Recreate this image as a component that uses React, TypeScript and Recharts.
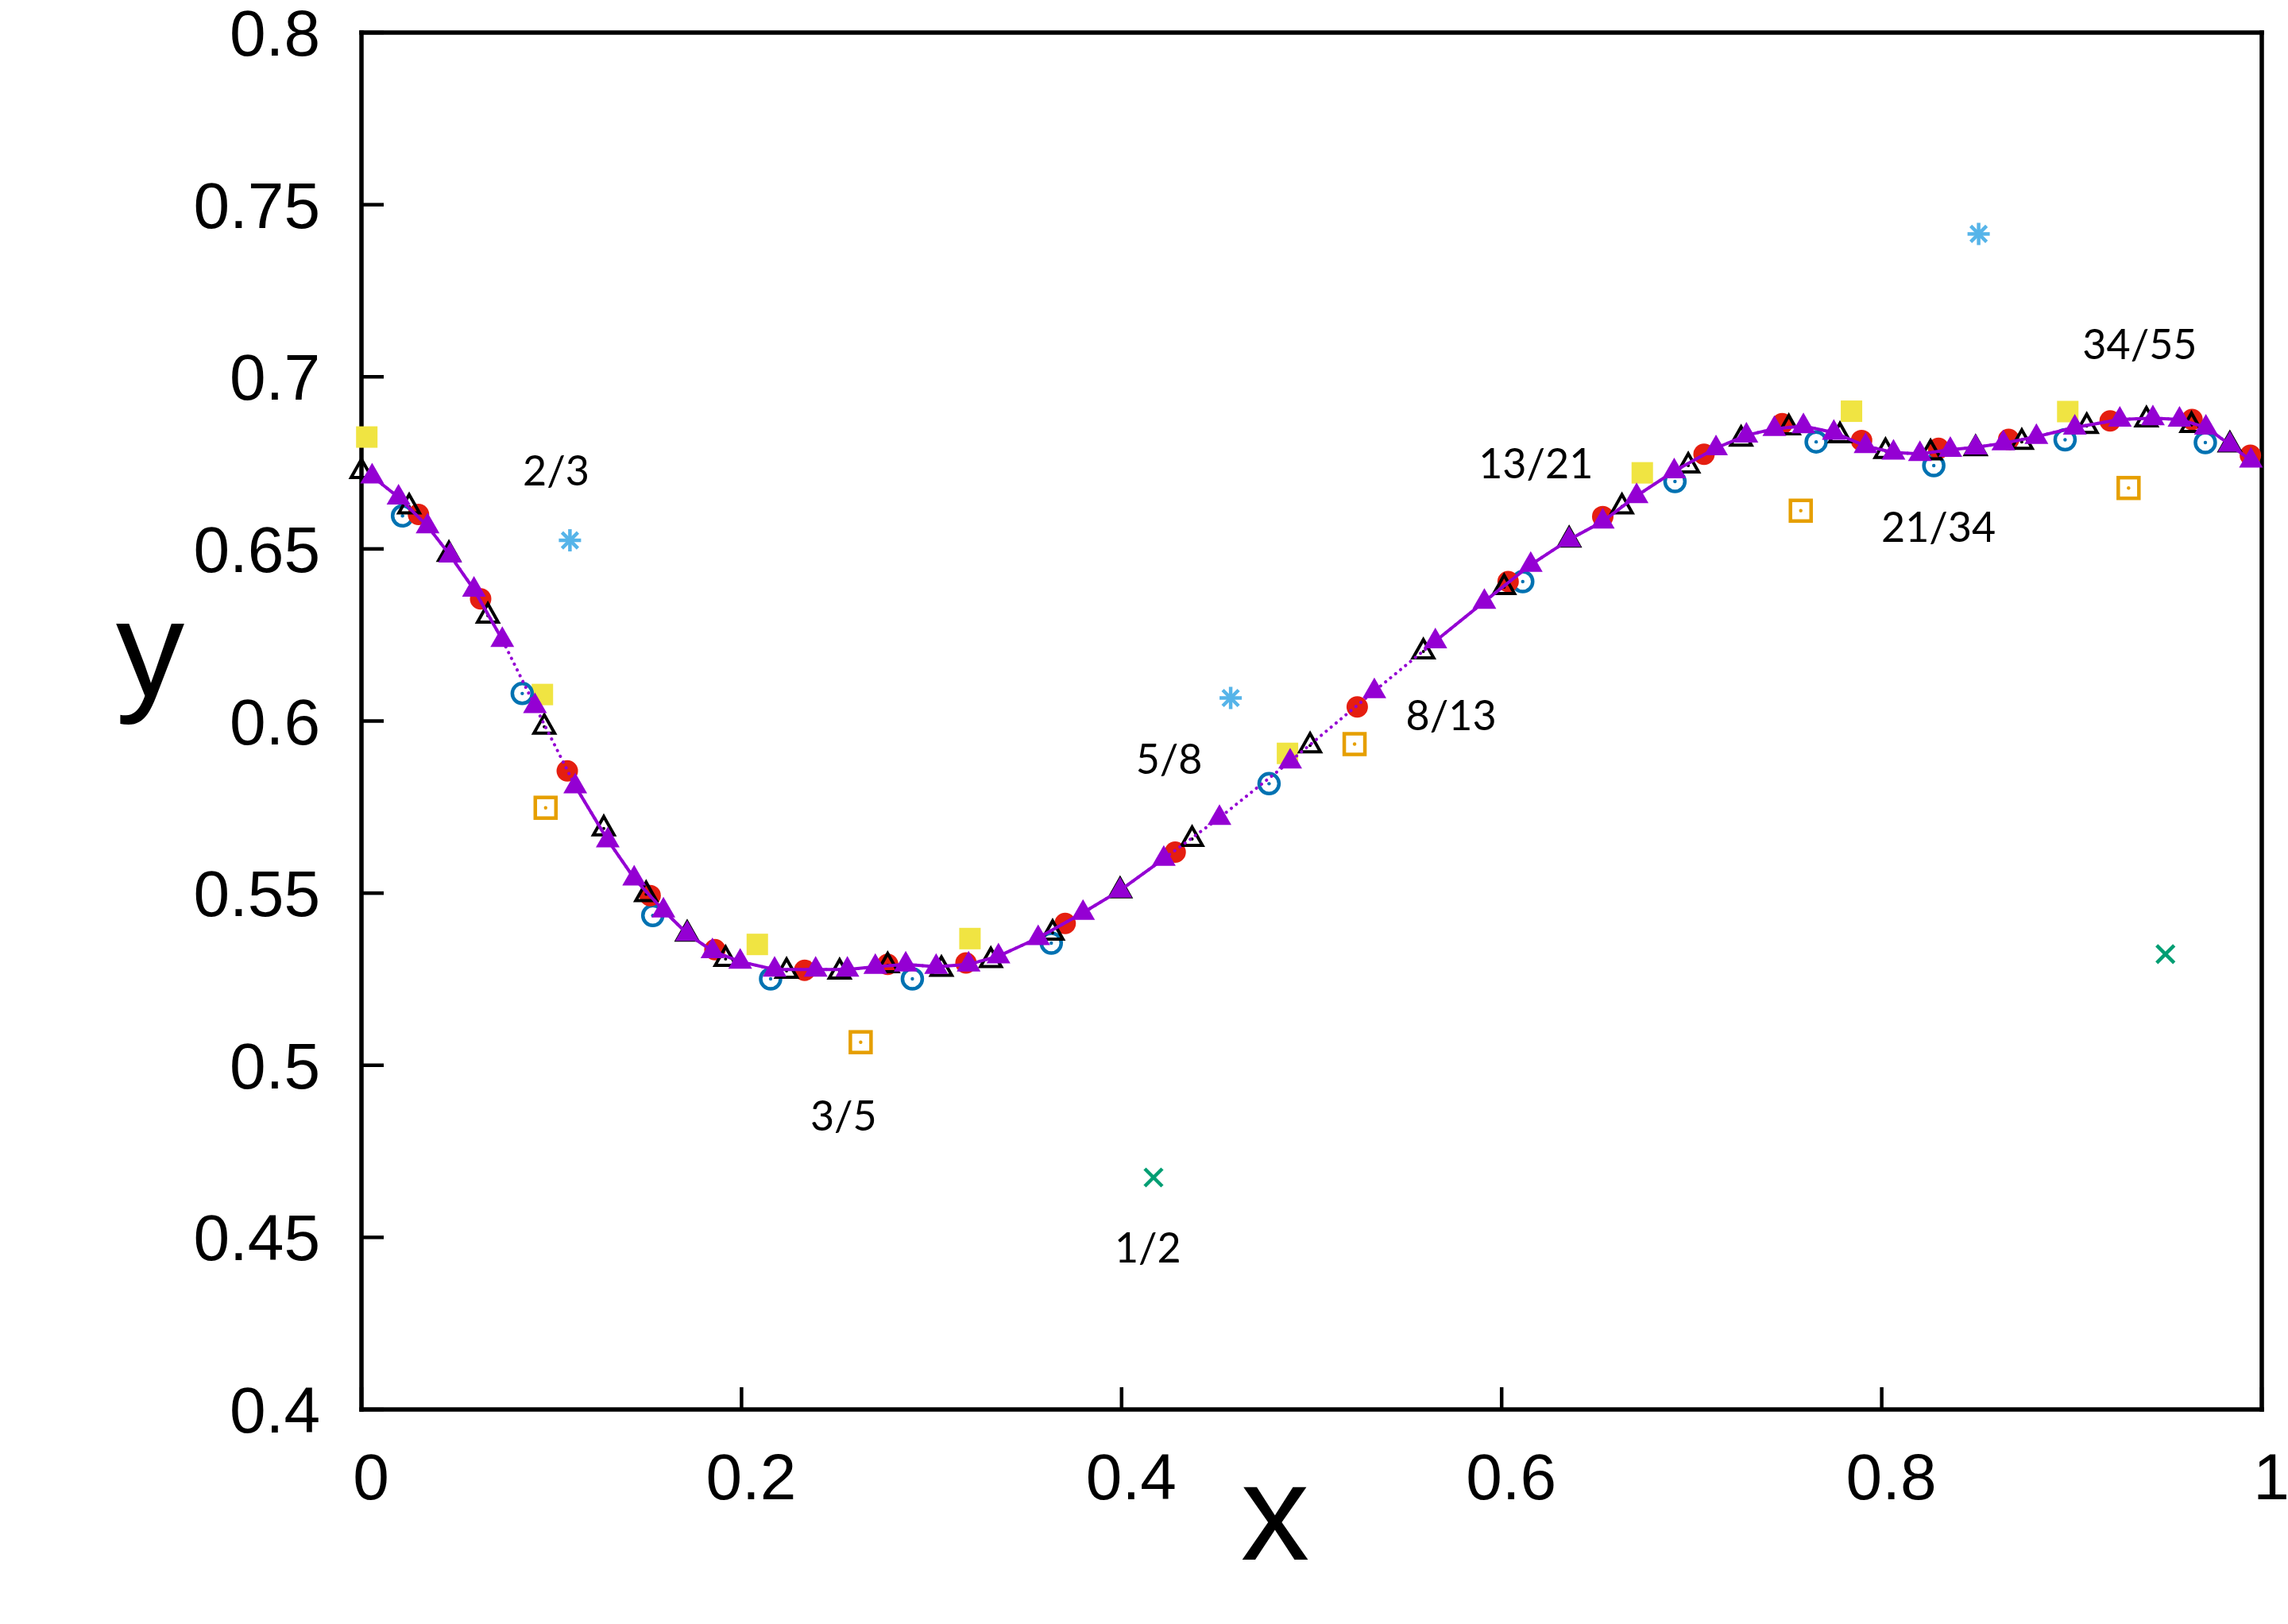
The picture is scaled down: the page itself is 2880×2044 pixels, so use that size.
import React from "react";
import { ComposedChart, Scatter, XAxis, YAxis } from "recharts";

// approximant p/q -> sampled points [x, y]
const s1_2 = [[0.4168, 0.4674], [0.9493, 0.5323]];
const s2_3 = [[0.1097, 0.6525], [0.4574, 0.6067], [0.851, 0.7415]];
const s3_5 = [[0.0969, 0.5748], [0.2627, 0.5067], [0.5226, 0.5933], [0.7574, 0.6611], [0.9299, 0.6677]];
const s5_8 = [
  [0.0028, 0.6825], [0.0952, 0.6077], [0.2083, 0.5351], [0.3202, 0.5368],
  [0.4873, 0.5906], [0.674, 0.6721], [0.7841, 0.69], [0.8979, 0.6899],
];
const s8_13 = [
  [0.0216, 0.6596], [0.0846, 0.608], [0.1533, 0.5435], [0.2153, 0.5251], [0.2899, 0.5251],
  [0.363, 0.5355], [0.4776, 0.5818], [0.6111, 0.6405], [0.6912, 0.6696], [0.7655, 0.6811],
  [0.8274, 0.6742], [0.8965, 0.6817], [0.9703, 0.6809],
];
const s13_21 = [
  [0.03, 0.66], [0.0627, 0.6355], [0.1083, 0.5855], [0.1519, 0.5493], [0.186, 0.5336],
  [0.2332, 0.5276], [0.2769, 0.5293], [0.3181, 0.5297], [0.3703, 0.5412], [0.4282, 0.5619],
  [0.524, 0.6041], [0.6034, 0.6405], [0.6532, 0.6594], [0.7065, 0.6775], [0.7476, 0.6864],
  [0.7894, 0.6815], [0.8299, 0.6792], [0.8668, 0.6818], [0.9202, 0.6872], [0.9633, 0.6876],
  [0.994, 0.6772],
];
const s21_34 = [
  [0, 0.6726], [0.0251, 0.6623], [0.046, 0.6485], [0.0665, 0.6306], [0.0962, 0.5983],
  [0.1275, 0.5688], [0.1498, 0.5497], [0.1714, 0.5382], [0.1916, 0.5309], [0.2237, 0.5274],
  [0.2516, 0.5272], [0.2769, 0.529], [0.3052, 0.528], [0.3312, 0.5305], [0.3637, 0.5385],
  [0.3992, 0.5508], [0.4371, 0.5657], [0.4992, 0.5929], [0.5588, 0.6202], [0.6013, 0.6389],
  [0.6355, 0.6527], [0.6633, 0.6623], [0.6982, 0.6742], [0.726, 0.682], [0.7511, 0.6853],
  [0.778, 0.683], [0.802, 0.6784], [0.8257, 0.678], [0.8494, 0.6792], [0.8737, 0.6811],
  [0.9079, 0.6857], [0.9393, 0.6876], [0.963, 0.686], [0.9832, 0.6803],
];
const s34_55 = [
  [0.0056, 0.6711], [0.0195, 0.665], [0.0348, 0.6566], [0.0467, 0.6481], [0.0592, 0.6382],
  [0.0741, 0.6236], [0.0913, 0.6044], [0.1125, 0.5811], [0.1296, 0.5654], [0.1435, 0.5543],
  [0.1589, 0.545], [0.1714, 0.5382], [0.1847, 0.5332], [0.1993, 0.5301], [0.2174, 0.5278],
  [0.239, 0.5278], [0.2557, 0.5278], [0.2704, 0.5286], [0.2864, 0.5293], [0.3024, 0.5286],
  [0.3195, 0.5293], [0.3352, 0.5317], [0.3561, 0.537], [0.3797, 0.5443], [0.3992, 0.5508],
  [0.4222, 0.56], [0.4515, 0.5719], [0.4887, 0.5883], [0.533, 0.6087], [0.5651, 0.6232],
  [0.5909, 0.6347], [0.6153, 0.6454], [0.6355, 0.6527], [0.6532, 0.658], [0.671, 0.6654],
  [0.6908, 0.6726], [0.7128, 0.6793], [0.7288, 0.683], [0.7435, 0.6849], [0.7588, 0.6857],
  [0.7748, 0.6838], [0.7915, 0.6799], [0.8062, 0.678], [0.8201, 0.6776], [0.8361, 0.6788],
  [0.8494, 0.6795], [0.864, 0.6807], [0.8814, 0.6826], [0.9016, 0.6853], [0.9253, 0.6876],
  [0.9427, 0.688], [0.9567, 0.6876], [0.9706, 0.6853], [0.9832, 0.6803], [0.9943, 0.6757],
];

const labelText = ["1/2", "2/3", "3/5", "5/8", "8/13", "13/21", "21/34", "34/55"];
const labelAt = [
  [0.4138, 0.4468], [0.1024, 0.6726], [0.2537, 0.4852], [0.425, 0.5888],
  [0.5734, 0.6014], [0.618, 0.6746], [0.8299, 0.6562], [0.9358, 0.7094],
];

const xTicks = [0, 0.2, 0.4, 0.6, 0.8, 1];
const yTicks = [0.4, 0.45, 0.5, 0.55, 0.6, 0.65, 0.7, 0.75, 0.8];

// index ranges of the 34/55 line drawn solid (the rest stays dotted)
const solidRuns = [[0, 6], [7, 26], [29, 55]];

const toPts = (a: number[][]) => a.map(([x, y]) => ({ x, y }));
const labelData = labelText.map((t, i) => ({ x: labelAt[i][0], y: labelAt[i][1], t }));

const PURPLE = "#9400D3";
const BLACK = "#000";
const tickFont = "'Liberation Sans', Arial, sans-serif";

const none = () => <g />;

const FilledTri = (color: string) => (p: any) => (
  <polygon
    points={`${p.cx},${p.cy - 17} ${p.cx - 15},${p.cy + 9} ${p.cx + 15},${p.cy + 9}`}
    fill={color}
  />
);
const OpenTri = (p: any) => (
  <g>
    <polygon
      points={`${p.cx},${p.cy - 15} ${p.cx - 13},${p.cy + 8} ${p.cx + 13},${p.cy + 8}`}
      fill="none" stroke={BLACK} strokeWidth={4} strokeLinejoin="miter"
    />
    <circle cx={p.cx} cy={p.cy} r={2} fill={BLACK} />
  </g>
);
const FilledCircle = (p: any) => <circle cx={p.cx} cy={p.cy} r={13.5} fill="#E51E10" />;
const OpenCircle = (p: any) => (
  <g>
    <circle cx={p.cx} cy={p.cy} r={12.5} fill="none" stroke="#0072B2" strokeWidth={4.5} />
    <circle cx={p.cx} cy={p.cy} r={2.2} fill="#0072B2" />
  </g>
);
const FilledSquare = (p: any) => <rect x={p.cx - 13.5} y={p.cy - 13.5} width={27} height={27} fill="#F0E442" />;
const OpenSquare = (p: any) => (
  <g>
    <rect x={p.cx - 13} y={p.cy - 13} width={26} height={26} fill="none" stroke="#E69F00" strokeWidth={4.5} />
    <circle cx={p.cx} cy={p.cy} r={2.2} fill="#E69F00" />
  </g>
);
const Star = (p: any) => {
  const r = 14, d = 10;
  return (
    <g stroke="#56B4E9" strokeWidth={4.5}>
      <line x1={p.cx} y1={p.cy - r} x2={p.cx} y2={p.cy + r} />
      <line x1={p.cx - r} y1={p.cy} x2={p.cx + r} y2={p.cy} />
      <line x1={p.cx - d} y1={p.cy - d} x2={p.cx + d} y2={p.cy + d} />
      <line x1={p.cx - d} y1={p.cy + d} x2={p.cx + d} y2={p.cy - d} />
    </g>
  );
};
const Cross = (p: any) => {
  const d = 11;
  return (
    <g stroke="#009E73" strokeWidth={4.5}>
      <line x1={p.cx - d} y1={p.cy - d} x2={p.cx + d} y2={p.cy + d} />
      <line x1={p.cx - d} y1={p.cy + d} x2={p.cx + d} y2={p.cy - d} />
    </g>
  );
};
const LabelShape = (p: any) => (
  <text x={p.cx} y={p.cy + 18} textAnchor="middle" fontFamily="Lato, 'Noto Sans', sans-serif" fontSize={52} fill={BLACK}>
    {p.payload.t}
  </text>
);

const TICK_LEN = 28;
const BottomTick = (p: any) => (
  <g>
    <line x1={p.x} x2={p.x} y1={p.y} y2={p.y - TICK_LEN} stroke={BLACK} strokeWidth={4.5} />
    <text x={p.x + 12} y={p.y + 113} textAnchor="middle" fontFamily={tickFont} fontSize={82} fill={BLACK}>
      {String(p.payload.value)}
    </text>
  </g>
);
const TopTick = (p: any) => (
  <line x1={p.x} x2={p.x} y1={p.y} y2={p.y + TICK_LEN} stroke={BLACK} strokeWidth={4.5} />
);
const LeftTick = (p: any) => (
  <g>
    <line x1={p.x} x2={p.x + TICK_LEN} y1={p.y} y2={p.y} stroke={BLACK} strokeWidth={4.5} />
    <text x={p.x - 52} y={p.y + 29} textAnchor="end" fontFamily={tickFont} fontSize={82} fill={BLACK}>
      {String(p.payload.value)}
    </text>
  </g>
);
const RightTick = (p: any) => (
  <line x1={p.x} x2={p.x - TICK_LEN} y1={p.y} y2={p.y} stroke={BLACK} strokeWidth={4.5} />
);

const frame = { stroke: BLACK, strokeWidth: 5.5, strokeLinecap: "square" as const };

export default function App() {
  const purple = toPts(s34_55);
  return (
    <div style={{ position: "absolute", left: 0, top: 0, width: 2880, height: 2044, background: "#fff" }}>
      <ComposedChart width={2880} height={2044} margin={{ top: 31, right: 23, bottom: 70, left: 155 }}>
        <XAxis
          dataKey="x" type="number" domain={[0, 1]} ticks={xTicks} interval={0}
          height={200} tickSize={0} tickMargin={0} tickLine={false} axisLine={frame} tick={<BottomTick />}
        />
        <XAxis
          xAxisId="top" orientation="top" dataKey="x" type="number" domain={[0, 1]} ticks={xTicks} interval={0}
          height={10} tickSize={0} tickMargin={0} tickLine={false} axisLine={frame} tick={<TopTick />}
        />
        <YAxis
          dataKey="y" type="number" domain={[0.4, 0.8]} ticks={yTicks} interval={0}
          width={300} tickSize={0} tickMargin={0} tickLine={false} axisLine={frame} tick={<LeftTick />}
        />
        <YAxis
          yAxisId="right" orientation="right" dataKey="y" type="number" domain={[0.4, 0.8]} ticks={yTicks} interval={0}
          width={10} tickSize={0} tickMargin={0} tickLine={false} axisLine={frame} tick={<RightTick />}
        />

        <Scatter data={toPts(s1_2)} shape={Cross} isAnimationActive={false} />
        <Scatter data={toPts(s2_3)} shape={Star} isAnimationActive={false} />
        <Scatter data={toPts(s3_5)} shape={OpenSquare} isAnimationActive={false} />
        <Scatter data={toPts(s5_8)} shape={FilledSquare} isAnimationActive={false} />
        <Scatter data={toPts(s8_13)} shape={OpenCircle} isAnimationActive={false} />
        <Scatter data={toPts(s13_21)} shape={FilledCircle} isAnimationActive={false} />
        <Scatter data={toPts(s21_34)} shape={OpenTri} isAnimationActive={false} />

        <Scatter
          data={purple} shape={none} isAnimationActive={false} fill={PURPLE}
          line={{ stroke: PURPLE, strokeWidth: 4, strokeDasharray: "0.1 8", strokeLinecap: "round" }}
        />
        {solidRuns.map(([a, b]) => (
          <Scatter
            key={a} data={purple.slice(a, b)} shape={none} isAnimationActive={false} fill={PURPLE}
            line={{ stroke: PURPLE, strokeWidth: 4 }}
          />
        ))}
        <Scatter data={purple} shape={FilledTri(PURPLE)} isAnimationActive={false} />

        <Scatter data={labelData} shape={LabelShape} isAnimationActive={false} />
      </ComposedChart>
      <svg width={2880} height={2044} style={{ position: "absolute", left: 0, top: 0, pointerEvents: "none" }}>
        <text x={189} y={876} textAnchor="middle" fontFamily={tickFont} fontSize={173} fill={BLACK}>y</text>
        <text x={1605} y={1963} textAnchor="middle" fontFamily={tickFont} fontSize={173} fill={BLACK}>x</text>
      </svg>
    </div>
  );
}
